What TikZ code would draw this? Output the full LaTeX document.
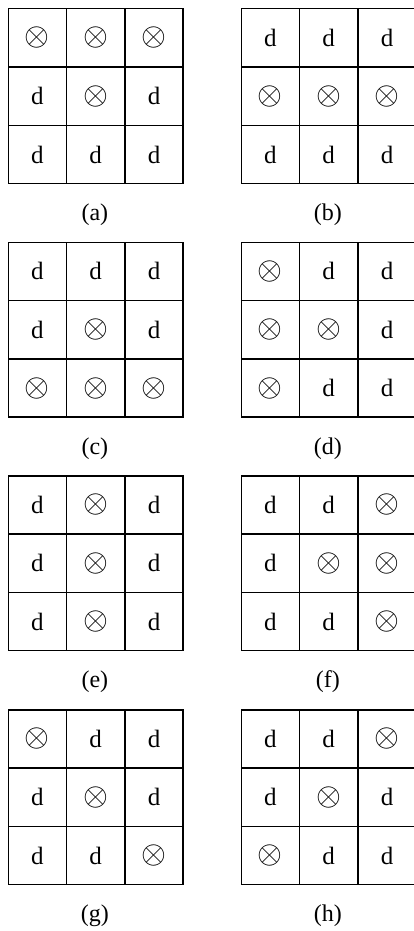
\documentclass[tikz,border=0pt]{standalone}
\usepackage{fix-cm}
\usepackage{fontspec}
\setmainfont{Liberation Serif}
\newcommand{\cellfont}{\fontsize{25}{28}\selectfont}
\newcommand{\symfont}{\fontsize{32}{34}\selectfont}
\newcommand{\cellX}{{\symfont$\otimes$}}
\newcommand{\celld}{d}
\begin{document}
\begin{tikzpicture}[x=1pt,y=-1pt,
  cellbox/.style={draw, line width=1.5pt, minimum width=58.3pt, minimum height=58.3pt,
    inner sep=0pt, anchor=north west, font=\cellfont},
  caplabel/.style={font=\fontsize{24}{28}\selectfont, inner sep=0pt}]
\useasboundingbox (0,0) rectangle (414,931);
\foreach \nm/\px/\py/\pat in {
  a/7.5/8/{X,X,X,d,X,d,d,d,d},
  b/240.5/8/{d,d,d,X,X,X,d,d,d},
  c/7.5/241.5/{d,d,d,d,X,d,X,X,X},
  d/240.5/241.5/{X,d,d,X,X,d,X,d,d},
  e/7.5/475/{d,X,d,d,X,d,d,X,d},
  f/240.5/475/{d,d,X,d,X,X,d,d,X},
  g/7.5/709/{X,d,d,d,X,d,d,d,X},
  h/240.5/709/{d,d,X,d,X,d,X,d,d}}{
  \foreach \c [count=\i from 0] in \pat {
    \pgfmathtruncatemacro{\col}{mod(\i,3)}
    \pgfmathtruncatemacro{\row}{int(\i/3)}
    \node[cellbox] (\nm-\row-\col) at ({\px+58.3*\col},{\py+58.3*\row}) {\csname cell\c\endcsname};
  }
  \node[caplabel] (lab-\nm) at ({\px+87.4},{\py+207}) {(\nm)};
}
\end{tikzpicture}
\end{document}
